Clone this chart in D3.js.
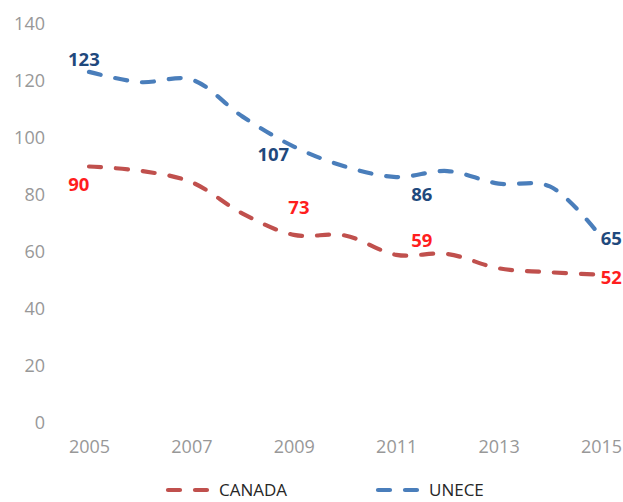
<!DOCTYPE html>
<html><head><meta charset="utf-8">
<script src="https://cdn.jsdelivr.net/npm/d3@7"></script>
<style>body{margin:0;background:#fff}svg{display:block}</style>
</head><body>
<svg id="c" width="623" height="502"></svg>
<script>
const years = [2005,2006,2007,2008,2009,2010,2011,2012,2013,2014,2015];
const canada = [90,88.5,84.5,73.5,66,65.8,59,59.3,54.3,52.9,52];
const unece = [123.2,119.6,120.5,107.5,97,90,86.3,88.4,84,83,65.3];
const yTicks = [0,20,40,60,80,100,120,140];
const xTickLabels = [2005,2007,2009,2011,2013,2015];
const canadaLabels = [{year:2004.8, value:84, text:"90"},{year:2009.1, value:75.8, text:"73"},{year:2011.5, value:64.5, text:"59"},{year:2015.2, value:51.5, text:"52"}];
const uneceLabels = [{year:2004.9, value:128, text:"123"},{year:2008.6, value:94.5, text:"107"},{year:2011.5, value:80.5, text:"86"},{year:2015.2, value:65, text:"65"}];

const svg = d3.select("#c");
const x = d3.scaleLinear().domain([2005,2015]).range([89,601]);
const y = d3.scaleLinear().domain([0,140]).range([423,24]);

const font = "'Open Sans', sans-serif";

// y axis
const yAxis = d3.axisLeft(y).tickValues(yTicks).tickSize(0).tickPadding(0);
const gy = svg.append("g").attr("transform","translate(45,0)").call(yAxis);
gy.select(".domain").remove();
gy.selectAll("text").attr("fill","#989898").style("font-family",font).style("font-size","18px");

// x axis
const xAxis = d3.axisBottom(x).tickValues(xTickLabels).tickFormat(d3.format("d")).tickSize(0).tickPadding(0);
const gx = svg.append("g").attr("transform","translate(0,440)").call(xAxis);
gx.select(".domain").remove();
gx.selectAll("text").attr("fill","#989898").style("font-family",font).style("font-size","18px");

const line = d3.line().x((d,i)=>x(years[i])).y(d=>y(d)).curve(d3.curveCatmullRom.alpha(0.5));

const series = [
  {name:"CANADA", data:canada, color:"#C0504D", labelColor:"#FF1E1E", labels:canadaLabels},
  {name:"UNECE", data:unece, color:"#4A7EBB", labelColor:"#1F497D", labels:uneceLabels}
];

series.forEach(s=>{
  svg.append("path").attr("d", line(s.data)).attr("fill","none")
    .attr("stroke", s.color).attr("stroke-width",4.2)
    .attr("stroke-dasharray","12,15").attr("stroke-linecap","round");
  svg.selectAll(null).data(s.labels).enter().append("text")
    .attr("x", d=>x(d.year)).attr("y", d=>y(d.value))
    .attr("text-anchor","middle").attr("dominant-baseline","central")
    .attr("fill", s.labelColor).style("font-family",font).style("font-weight","bold").style("font-size","18.5px")
    .text(d=>d.text);
});

// legend
const legend = [{name:"CANADA", color:"#C0504D", x:168},{name:"UNECE", color:"#4A7EBB", x:378}];
legend.forEach(l=>{
  svg.append("line").attr("x1",l.x).attr("x2",l.x+42).attr("y1",490).attr("y2",490)
    .attr("stroke",l.color).attr("stroke-width",4.2).attr("stroke-dasharray","12,15").attr("stroke-linecap","round");
  svg.append("text").attr("x",l.x+51).attr("y",496)
    .attr("fill","#262626").style("font-family",font).style("font-size","17px").text(l.name);
});
</script>
</body></html>
